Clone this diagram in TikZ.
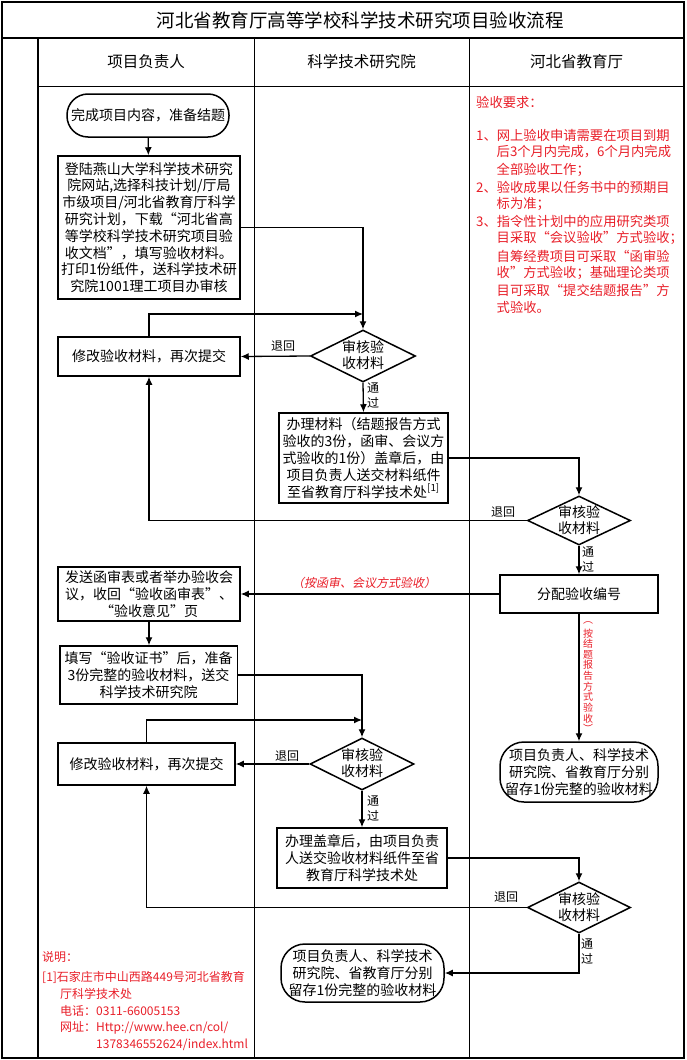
\documentclass[tikz,border=0pt]{standalone}
\usepackage{fontspec}
\setmainfont{Noto Sans CJK SC}
\newfontfamily\slantfont[FakeSlant=0.2]{Noto Sans CJK SC}
\usetikzlibrary{arrows.meta,shapes.geometric}
\definecolor{notered}{RGB}{232,30,40}
\tikzset{
  box/.style={draw, line width=1.5pt, fill=white, align=center, inner sep=0pt,
    font=\fontsize{14}{16.8}\selectfont},
  term/.style={box},
  diam/.style={draw, diamond, line width=1.5pt, fill=white, inner sep=0pt},
  dtext/.style={align=center, inner sep=0pt, font=\fontsize{14}{16.5}\selectfont},
  conn/.style={line width=1.3pt, -{Latex[length=8pt,width=7pt]}},
  lbl/.style={align=center, inner sep=0pt, font=\fontsize{12}{15}\selectfont},
  rednote/.style={anchor=west, inner sep=0pt, text=notered, font=\fontsize{13.3}{17}\selectfont},
  footnote/.style={anchor=west, inner sep=0pt, text=notered, font=\fontsize{12}{15}\selectfont},
  vchar/.style={inner sep=0pt, text=notered, font=\fontsize{10}{10}\selectfont},
  lane/.style={line width=0.8pt},
  frame/.style={line width=1.8pt},
}
\begin{document}
\begin{tikzpicture}[x=1pt,y=-1pt]
\useasboundingbox (0,0) rectangle (686,1060);
% frame and lanes
\draw[frame] (2,2) rectangle (684,1058);
\draw[frame] (2,38) -- (684,38);
\draw[frame] (38,38) -- (38,1058);
\draw[lane] (38,86) -- (684,86);
\draw[lane] (254,38) -- (254,1058);
\draw[lane] (469,38) -- (469,1058);
\node[inner sep=0pt, font=\fontsize{18.5}{20}\selectfont] (title) at (360,20) {河北省教育厅高等学校科学技术研究项目验收流程};
\node[inner sep=0pt, font=\fontsize{15.5}{18}\selectfont] (h1) at (146,62) {项目负责人};
\node[inner sep=0pt, font=\fontsize{15.5}{18}\selectfont] (h2) at (361.5,62) {科学技术研究院};
\node[inner sep=0pt, font=\fontsize{15.5}{18}\selectfont] (h3) at (576.5,62) {河北省教育厅};

% nodes
\node[term, rounded corners=21pt, minimum width=162pt, minimum height=43pt] (start) at (148,115.5) {完成项目内容，准备结题};
\node[box, minimum width=182pt, minimum height=143pt] (b1) at (149,227.5) {登陆燕山大学科学技术研究\\院网站,选择科技计划/厅局\\市级项目/河北省教育厅科学\\研究计划，下载“河北省高\\等学校科学技术研究项目验\\收文档”，填写验收材料。\\打印1份纸件，送科学技术研\\究院1001理工项目办审核};
\node[box, minimum width=182pt, minimum height=39pt] (m1) at (149,356.5) {修改验收材料，再次提交};
\node[diam, minimum width=105pt, minimum height=52pt] (d1) at (363,356) {};
\node[dtext] (d1t) at (363,355) {审核验\\收材料};
\node[box, minimum width=169pt, minimum height=90pt] (b3) at (363.5,458) {办理材料（结题报告方式\\验收的3份，函审、会议方\\式验收的1份）盖章后，由\\项目负责人送交材料纸件\\至省教育厅科学技术处\textsuperscript{[1]}};
\node[diam, minimum width=103pt, minimum height=49pt] (d2) at (579,520.5) {};
\node[dtext] (d2t) at (579,520) {审核验\\收材料};
\node[box, minimum width=158pt, minimum height=38pt] (fp) at (579,594) {分配验收编号};
\node[box, minimum width=182pt, minimum height=54pt] (ls) at (149,594) {发送函审表或者举办验收会\\议，收回“验收函审表”、\\“验收意见”页};
\node[box, minimum width=177.5pt, minimum height=58pt] (fill) at (148.5,675) {填写“验收证书”后，准备\\3份完整的验收材料，送交\\科学技术研究院};
\node[diam, minimum width=104pt, minimum height=52pt] (d3) at (362,764) {};
\node[dtext] (d3t) at (362,763) {审核验\\收材料};
\node[box, minimum width=177pt, minimum height=42pt] (m2) at (146.5,764) {修改验收材料，再次提交};
\node[box, minimum width=170pt, minimum height=60pt] (b4) at (362,858) {办理盖章后，由项目负责\\人送交验收材料纸件至省\\教育厅科学技术处};
\node[diam, minimum width=103pt, minimum height=51pt] (d4) at (579,907.5) {};
\node[dtext] (d4t) at (579,907) {审核验\\收材料};
\node[term, rounded corners=24pt, minimum width=158pt, minimum height=60pt] (e1) at (579,772) {项目负责人、科学技术\\研究院、省教育厅分别\\留存1份完整的验收材料};
\node[term, rounded corners=24pt, minimum width=163pt, minimum height=58pt] (e2) at (362.5,973) {项目负责人、科学技术\\研究院、省教育厅分别\\留存1份完整的验收材料};

% junctions
\coordinate (j1) at (363,314);
\coordinate (j2) at (362,720);

% connectors
\draw[conn] (start) -- (b1);
\draw[conn] (b1.east) -| (d1.north);
\draw[conn] (d1.west) -- (m1.east);
\draw[conn] (m1.north) |- (j1);
\draw[conn] (d1.south) -- (b3.north);
\draw[conn] (b3.east) -| (d2.north);
\draw[conn] (d2.west) -| (m1.south);
\draw[conn] (d2.south) -- (fp.north);
\draw[conn] (fp.west) -- (ls.east);
\draw[conn] (fp.south) -- (e1.north);
\draw[conn] (ls.south) -- (ls.south |- fill.north);
\draw[conn] (fill.east) -| (d3.north);
\draw[conn] (d3.west) -- (m2.east);
\draw[conn] (m2.north) |- (j2);
\draw[conn] (d3.south) -- (b4.north);
\draw[conn] (b4.east) -| (d4.north);
\draw[conn] (d4.west) -| (m2.south);
\draw[conn] (d4.south) |- (e2.east);

% edge labels
\node[lbl] (r1) at (283,346) {退回};
\node[lbl] (p1) at (373,395) {通\\过};
\node[lbl] (r2) at (503,512) {退回};
\node[lbl] (p2) at (588,559) {通\\过};
\node[lbl] (r3) at (287,756) {退回};
\node[lbl] (p3) at (373,808) {通\\过};
\node[lbl] (r4) at (506,897) {退回};
\node[lbl] (p4) at (587,951) {通\\过};
\node[inner sep=0pt, text=notered, font=\slantfont\fontsize{12}{14}\selectfont] (hs) at (364,583) {（按函审、会议方式验收）};
\foreach \c [count=\i] in {︵,按,结,题,报,告,方,式,验,收,︶}
  \node[vchar] (vt\i) at (588,{617.5+10.6*(\i-0.5)}) {\c};

% requirement notes
\node[rednote] (n0) at (476,102) {验收要求：};
\node[rednote] (n1) at (476,135) {1、网上验收申请需要在项目到期};
\node[rednote] (n2) at (496.5,152) {后3个月内完成，6个月内完成};
\node[rednote] (n3) at (496.5,170) {全部验收工作；};
\node[rednote] (n4) at (476,187) {2、验收成果以任务书中的预期目};
\node[rednote] (n5) at (496.5,204) {标为准；};
\node[rednote] (n6) at (476,221) {3、指令性计划中的应用研究类项};
\node[rednote] (n7) at (496.5,238) {目采取“会议验收”方式验收；};
\node[rednote] (n8) at (496.5,256) {自筹经费项目可采取“函审验};
\node[rednote] (n9) at (496.5,273) {收”方式验收；基础理论类项};
\node[rednote] (n10) at (496.5,290) {目可采取“提交结题报告”方};
\node[rednote] (n11) at (496.5,307) {式验收。};

% footnotes
\node[footnote] (f0) at (42,957) {说明：};
\node[footnote] (f1) at (42,977) {[1]石家庄市中山西路449号河北省教育};
\node[footnote] (f2) at (60,994) {厅科学技术处};
\node[footnote] (f3) at (60,1011) {电话：0311-66005153};
\node[footnote] (f4) at (60,1028) {网址：Http://www.hee.cn/col/};
\node[footnote] (f5) at (96,1045) {1378346552624/index.html};
\end{tikzpicture}
\end{document}
